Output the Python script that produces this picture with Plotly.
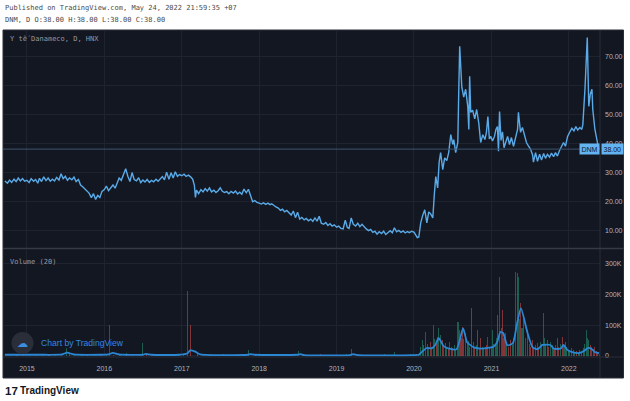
import plotly.graph_objects as go

# ---------------- data ----------------
symbol = "DNM"
chart_title = "Y tế Danameco, D, HNX"
published = "Published on TradingView.com, May 24, 2022 21:59:35 +07"

price_dates = [
    "2014-09-19", "2014-10-01", "2014-10-11", "2014-10-21", "2014-11-01", "2014-11-11", "2014-11-21",
    "2014-12-01", "2014-12-11", "2014-12-21",
    "2015-01-01", "2015-01-11", "2015-01-21", "2015-02-01", "2015-02-11", "2015-02-21", "2015-03-01",
    "2015-03-11", "2015-03-21", "2015-04-01", "2015-04-11", "2015-04-21", "2015-05-01", "2015-05-11",
    "2015-05-21", "2015-06-01", "2015-06-11", "2015-06-21", "2015-07-01", "2015-07-11", "2015-07-21",
    "2015-08-01", "2015-08-11", "2015-08-21", "2015-09-01", "2015-09-11", "2015-09-21", "2015-10-01",
    "2015-10-11", "2015-10-21", "2015-11-01", "2015-11-11", "2015-11-21", "2015-12-01", "2015-12-11",
    "2015-12-21",
    "2016-01-01", "2016-01-11", "2016-01-21", "2016-02-01", "2016-02-11", "2016-02-21", "2016-03-01",
    "2016-03-11", "2016-03-21", "2016-04-01", "2016-04-11", "2016-04-21", "2016-05-01", "2016-05-11",
    "2016-05-21", "2016-06-01", "2016-06-11", "2016-06-21", "2016-07-01", "2016-07-11", "2016-07-21",
    "2016-08-01", "2016-08-11", "2016-08-21", "2016-09-01", "2016-09-11", "2016-09-21", "2016-10-01",
    "2016-10-11", "2016-10-21", "2016-11-01", "2016-11-11", "2016-11-21", "2016-12-01", "2016-12-11",
    "2016-12-21",
    "2017-01-01", "2017-01-11", "2017-01-21", "2017-02-01", "2017-02-11", "2017-02-21", "2017-03-01",
    "2017-03-06", "2017-03-11", "2017-03-21", "2017-04-01", "2017-04-11", "2017-04-21", "2017-05-01",
    "2017-05-11", "2017-05-21", "2017-06-01", "2017-06-11", "2017-06-21", "2017-07-01", "2017-07-11",
    "2017-07-21", "2017-08-01", "2017-08-11", "2017-08-21", "2017-09-01", "2017-09-11", "2017-09-21",
    "2017-10-01", "2017-10-11", "2017-10-21", "2017-11-01", "2017-11-11", "2017-11-21", "2017-12-01",
    "2017-12-11", "2017-12-21",
    "2018-01-01", "2018-01-11", "2018-01-21", "2018-02-01", "2018-02-11", "2018-02-21", "2018-03-01",
    "2018-03-11", "2018-03-21", "2018-04-01", "2018-04-11", "2018-04-21", "2018-05-01", "2018-05-11",
    "2018-05-21", "2018-06-01", "2018-06-11", "2018-06-21", "2018-07-01", "2018-07-11", "2018-07-21",
    "2018-08-01", "2018-08-11", "2018-08-21", "2018-09-01", "2018-09-11", "2018-09-21", "2018-10-01",
    "2018-10-11", "2018-10-21", "2018-11-01", "2018-11-11", "2018-11-21", "2018-12-01", "2018-12-11",
    "2018-12-21",
    "2019-01-01", "2019-01-11", "2019-01-21", "2019-02-01", "2019-02-11", "2019-02-21", "2019-03-01",
    "2019-03-11", "2019-03-21", "2019-04-01", "2019-04-11", "2019-04-21", "2019-05-01", "2019-05-11",
    "2019-05-21", "2019-06-01", "2019-06-11", "2019-06-21", "2019-07-01", "2019-07-11", "2019-07-21",
    "2019-08-01", "2019-08-11", "2019-08-21", "2019-09-01", "2019-09-11", "2019-09-21", "2019-10-01",
    "2019-10-11", "2019-10-21", "2019-11-01", "2019-11-11", "2019-11-21", "2019-12-01", "2019-12-11",
    "2019-12-21",
    "2020-01-01", "2020-01-10", "2020-01-17", "2020-01-24", "2020-02-02", "2020-02-11", "2020-02-21",
    "2020-03-02", "2020-03-11", "2020-03-20", "2020-03-30", "2020-04-06", "2020-04-13", "2020-04-22",
    "2020-04-29", "2020-05-06", "2020-05-16", "2020-05-25", "2020-06-04", "2020-06-13", "2020-06-23",
    "2020-07-02", "2020-07-07", "2020-07-16", "2020-07-26", "2020-07-30", "2020-08-04", "2020-08-14",
    "2020-08-23", "2020-09-01", "2020-09-11", "2020-09-16", "2020-09-20", "2020-09-25", "2020-10-04",
    "2020-10-14", "2020-10-23", "2020-11-02", "2020-11-11", "2020-11-21", "2020-12-01", "2020-12-08",
    "2020-12-15", "2020-12-22", "2020-12-29",
    "2021-01-06", "2021-01-15", "2021-01-22", "2021-01-29", "2021-02-03", "2021-02-08", "2021-02-15",
    "2021-02-22", "2021-03-01", "2021-03-08", "2021-03-18", "2021-03-27", "2021-04-05", "2021-04-15",
    "2021-04-24", "2021-05-04", "2021-05-08", "2021-05-18", "2021-05-27", "2021-06-06", "2021-06-15",
    "2021-06-25", "2021-07-04", "2021-07-14", "2021-07-18", "2021-07-28", "2021-08-06", "2021-08-16",
    "2021-08-25", "2021-09-04", "2021-09-13", "2021-09-22", "2021-10-02", "2021-10-11", "2021-10-21",
    "2021-10-30", "2021-11-08", "2021-11-18", "2021-11-27", "2021-12-07", "2021-12-16", "2021-12-26",
    "2022-01-06", "2022-01-15", "2022-01-25", "2022-02-03", "2022-02-12", "2022-02-22", "2022-03-03",
    "2022-03-08", "2022-03-18", "2022-03-22", "2022-03-29", "2022-04-05", "2022-04-12", "2022-04-20",
    "2022-04-24", "2022-05-04", "2022-05-13", "2022-05-18", "2022-05-24",
]

price_close = [
    27.0, 26.2, 27.3, 26.5, 27.6, 26.8, 28.0, 27.0, 27.8, 26.9,
    27.2, 26.4, 27.8, 26.9, 27.5, 26.2, 27.9, 26.8, 28.4, 27.1, 28.0, 26.9, 27.6, 27.0, 28.2, 27.3,
    29.5, 27.8, 28.6, 27.2, 28.0, 27.4, 28.3, 26.8, 27.5, 25.6, 25.0, 24.2, 23.5, 22.8, 21.2, 22.6,
    20.6, 22.0, 21.3, 23.4,
    24.0, 25.2, 23.6, 24.8, 25.6, 24.5, 26.5, 28.0, 27.2, 29.4, 31.2, 28.6, 26.8, 29.9, 27.5, 27.0,
    28.1, 26.4, 27.3, 26.6, 27.5, 26.5, 27.2, 26.7, 27.6, 26.9, 27.8, 28.5, 27.4, 30.0, 27.6, 29.8,
    28.0, 30.2, 28.6, 29.2,
    28.8, 29.3, 28.6, 29.0, 28.4, 27.6, 25.5, 21.3, 23.8, 22.6, 24.0, 23.2, 24.3, 23.5, 24.6, 23.2,
    23.8, 23.0, 23.6, 24.6, 23.4, 23.0, 23.3, 22.6, 23.4, 22.8, 23.5, 22.5, 23.1, 22.4, 24.2, 22.9,
    24.1, 21.5, 19.8, 20.2, 19.6,
    19.3, 19.0, 19.4, 18.9, 19.3, 18.8, 19.1, 18.4, 18.0, 17.6, 16.8, 17.2, 16.3, 16.8, 16.0, 15.2,
    16.6, 14.3, 16.2, 13.8, 14.4, 13.5, 14.0, 13.2, 13.8, 13.0, 14.2, 13.1, 14.8, 12.4, 12.0, 12.6,
    11.6, 12.2, 11.4, 11.8,
    11.0, 11.4, 10.6, 10.4, 13.4, 10.9, 10.6, 14.2, 12.0, 11.4, 12.4, 11.2, 12.0, 11.0, 10.4, 9.8,
    10.2, 9.2, 9.6, 8.6, 9.4, 8.8, 9.6, 8.5, 9.2, 9.8, 9.1, 10.8, 9.4, 9.9, 9.2, 9.7, 9.0, 9.5, 9.1,
    9.6,
    9.3, 8.0, 7.4, 7.6, 12.5, 15.0, 17.0, 12.5, 16.3, 15.6, 14.2, 22.0, 28.5, 24.6, 33.5, 36.8, 30.9,
    35.0, 34.0, 36.8, 43.0, 39.6, 41.3, 36.8, 40.3, 56.0, 73.6, 59.4, 56.0, 58.7, 52.8, 44.8, 63.2,
    50.7, 51.5, 48.5, 51.7, 47.0, 40.3, 43.0, 41.3, 43.8, 49.3, 41.5, 42.4,
    40.8, 42.4, 44.8, 45.8, 37.3, 51.0, 41.0, 44.0, 38.5, 40.0, 42.4, 39.6, 42.0, 39.0, 42.0, 44.8,
    50.7, 43.8, 45.5, 42.4, 40.3, 39.0, 38.0, 36.0, 33.5, 36.8, 33.8, 36.2, 34.2, 36.5, 34.8, 36.2,
    35.2, 36.6, 35.4, 36.8, 35.6, 37.5, 38.8, 40.3, 39.0, 42.4,
    44.0, 45.2, 44.3, 45.8, 44.6, 45.5, 44.8, 46.5, 58.7, 66.0, 76.6, 52.8, 57.0, 58.7, 51.7, 44.8,
    40.3, 39.5, 38.0,
]

# volume (thousands of shares), 1 = up day (green), 0 = down day (red)
vol_dates = [
    "2014-10-15", "2014-11-15", "2014-12-15",
    "2015-01-15", "2015-02-15", "2015-03-15", "2015-04-15", "2015-05-15", "2015-06-15", "2015-07-08",
    "2015-07-20", "2015-08-15", "2015-09-15", "2015-10-15", "2015-11-15", "2015-12-15",
    "2016-01-10", "2016-01-25", "2016-02-15", "2016-03-15", "2016-04-15", "2016-05-15", "2016-06-15",
    "2016-07-01", "2016-07-20", "2016-08-15", "2016-09-15", "2016-10-15", "2016-11-15", "2016-12-15",
    "2017-01-10", "2017-01-29", "2017-02-12", "2017-03-15", "2017-04-15", "2017-05-15", "2017-06-15",
    "2017-07-15", "2017-08-15", "2017-09-15", "2017-10-15", "2017-11-10", "2017-12-15",
    "2018-01-15", "2018-02-15", "2018-03-15", "2018-04-15", "2018-05-15", "2018-06-15", "2018-07-05",
    "2018-08-15", "2018-09-15", "2018-10-15", "2018-11-15", "2018-12-15",
    "2019-01-15", "2019-02-15", "2019-03-12", "2019-04-15", "2019-05-15", "2019-06-15", "2019-07-15",
    "2019-08-15", "2019-09-15", "2019-10-03", "2019-11-15", "2019-12-15",
    "2020-01-06", "2020-01-15", "2020-01-24", "2020-02-03", "2020-02-10", "2020-02-17", "2020-02-26",
    "2020-03-03", "2020-03-10", "2020-03-18", "2020-03-25", "2020-04-03", "2020-04-09", "2020-04-15",
    "2020-04-22", "2020-04-28", "2020-05-05", "2020-05-14", "2020-05-20", "2020-05-27", "2020-06-03",
    "2020-06-10", "2020-06-18", "2020-06-25", "2020-07-02", "2020-07-09", "2020-07-16", "2020-07-27",
    "2020-08-04", "2020-08-10", "2020-08-19", "2020-08-24", "2020-08-31", "2020-09-08", "2020-09-15",
    "2020-09-21", "2020-09-27", "2020-10-07", "2020-10-14", "2020-10-21", "2020-10-29", "2020-11-04",
    "2020-11-12", "2020-11-18", "2020-11-25", "2020-12-02", "2020-12-09", "2020-12-15", "2020-12-23",
    "2020-12-30",
    "2021-01-05", "2021-01-12", "2021-01-19", "2021-01-25", "2021-01-29", "2021-02-08", "2021-02-15",
    "2021-02-22", "2021-03-01", "2021-03-08", "2021-03-15", "2021-03-22", "2021-04-01", "2021-04-08",
    "2021-04-15", "2021-04-24", "2021-05-04", "2021-05-08", "2021-05-12", "2021-05-18", "2021-05-25",
    "2021-06-01", "2021-06-10", "2021-06-20", "2021-06-28", "2021-07-06", "2021-07-14", "2021-07-20",
    "2021-07-27", "2021-08-06", "2021-08-13", "2021-08-20", "2021-08-27", "2021-09-04", "2021-09-10",
    "2021-09-15", "2021-09-22", "2021-09-29", "2021-10-06", "2021-10-16", "2021-10-23", "2021-10-30",
    "2021-11-08", "2021-11-15", "2021-11-23", "2021-12-02", "2021-12-09", "2021-12-16", "2021-12-23",
    "2021-12-30",
    "2022-01-06", "2022-01-15", "2022-01-22", "2022-01-29", "2022-02-08", "2022-02-15", "2022-02-22",
    "2022-03-02", "2022-03-10", "2022-03-18", "2022-03-25", "2022-03-30", "2022-04-05", "2022-04-12",
    "2022-04-19", "2022-04-26", "2022-05-04", "2022-05-11", "2022-05-18", "2022-05-24",
]

vol_values = [
    4, 6, 3,
    5, 3, 7, 4, 6, 5, 25, 9, 4, 3, 6, 8, 5,
    7, 100, 4, 6, 9, 5, 4, 42, 6, 3, 5, 7, 4, 6,
    8, 213, 100, 5, 4, 6, 3, 5, 4, 3, 6, 18, 5,
    4, 3, 5, 3, 6, 4, 15, 3, 4, 5, 3, 4,
    3, 5, 22, 6, 3, 4, 3, 5, 3, 12, 3, 5,
    3, 5, 8, 30, 52, 35, 79, 40, 28, 45, 30, 101, 55, 38, 63, 90, 70, 52, 35, 41, 28, 22, 45, 30, 25,
    35, 20, 112, 85, 60, 96, 55, 74, 40, 48, 30, 155, 45, 30, 35, 85, 25, 58, 30, 22, 28, 35, 63, 30,
    25,
    85, 40, 35, 60, 134, 259, 90, 150, 60, 74, 45, 30, 52, 35, 60, 275, 270, 259, 120, 172, 90, 128,
    60, 85, 40, 30, 52, 28, 35, 41, 30, 45, 38, 139, 60, 40, 52, 30, 45, 36, 25, 35, 58, 30, 40, 63,
    35, 47, 28, 20,
    15, 25, 18, 12, 15, 10, 20, 12, 25, 40, 85, 60, 52, 35, 28, 22, 30, 15, 10, 5,
]

vol_up = [
    1, 0, 1,
    1, 0, 1, 0, 1, 0, 1, 0, 1, 0, 0, 1, 0,
    1, 1, 0, 1, 1, 0, 1, 1, 0, 0, 1, 0, 1, 1,
    1, 1, 0, 0, 1, 0, 1, 0, 0, 1, 0, 1, 0,
    0, 1, 0, 0, 1, 0, 1, 0, 1, 0, 0, 1,
    0, 1, 1, 0, 0, 1, 0, 1, 0, 1, 0, 1,
    1, 0, 1, 1, 1, 0, 1, 0, 1, 0, 1, 1, 1, 0, 0, 1, 1, 0, 1, 0, 1, 0, 1, 0, 0,
    1, 0, 1, 1, 0, 0, 0, 1, 0, 1, 0, 0, 1, 0, 1, 0, 1, 0, 1, 0, 1, 0, 1, 0,
    1,
    1, 0, 1, 1, 0, 1, 1, 0, 0, 1, 1, 0, 0, 1, 1, 1, 0, 1, 1, 0, 1, 0,
    1, 0, 1, 0, 0, 0, 1, 1, 0, 1, 1, 1, 1, 0, 0, 0, 1, 1, 0, 1, 0, 0, 1, 0, 1, 0,
    1, 1, 0, 1,
    0, 1, 0, 1, 1, 0, 0, 1, 1, 1, 1, 0, 0, 1, 0, 0, 0, 0, 0, 0,
]

ma_dates = [
    "2014-09-19", "2015-03-01", "2015-06-15", "2015-07-10", "2015-08-10", "2015-12-15", "2016-01-20",
    "2016-02-10", "2016-03-10", "2016-07-01", "2016-07-15", "2016-08-10", "2016-12-20", "2017-01-25",
    "2017-02-10", "2017-03-05", "2017-03-30", "2017-11-10", "2017-11-20", "2017-12-10", "2018-07-01",
    "2018-07-15", "2018-08-01", "2019-03-05", "2019-03-20", "2019-04-10", "2019-12-31",
    "2020-01-24", "2020-02-10", "2020-03-01", "2020-03-25", "2020-04-10", "2020-04-27", "2020-05-20",
    "2020-06-15", "2020-07-20", "2020-08-20", "2020-09-08", "2020-10-10", "2020-11-15", "2020-12-20",
    "2021-01-10", "2021-01-28", "2021-02-12", "2021-02-25", "2021-03-17", "2021-04-12", "2021-04-30",
    "2021-05-20", "2021-06-20", "2021-07-14", "2021-08-06", "2021-08-30", "2021-10-06", "2021-10-21",
    "2021-11-23", "2021-12-07", "2021-12-25", "2022-01-20", "2022-02-22", "2022-03-17", "2022-03-31",
    "2022-04-20", "2022-05-05", "2022-05-24",
]
ma_values = [
    4, 4, 5, 11, 5, 4, 5, 10, 5, 4, 7, 4, 4, 8, 18, 14, 5, 4, 6, 4, 4, 6, 3, 3, 6, 3, 3,
    4, 15, 26, 25, 35, 58, 32, 24, 22, 90, 45, 28, 24, 27,
    30, 45, 78, 75, 35, 42, 100, 155, 75, 28, 22, 36, 36, 24, 24, 36, 20, 12, 10, 18, 26, 22, 12, 9,
]

year_ticks = ["2015-01-01", "2016-01-01", "2017-01-01", "2018-01-01", "2019-01-01",
              "2020-01-01", "2021-01-01", "2022-01-01"]
year_labels = ["2015", "2016", "2017", "2018", "2019", "2020", "2021", "2022"]
price_ticks = [10, 20, 30, 40, 50, 60, 70]
price_tick_labels = ["10.00", "20.00", "30.00", "40.00", "50.00", "60.00", "70.00"]
vol_ticks = [0, 100, 200, 300]
vol_tick_labels = ["0", "100K", "200K", "300K"]

# ---------------- layout helpers ----------------
W, H = 630, 401
ML, MR, MT, MB = 3, 30, 30, 44
PW, PH = W - ML - MR, H - MT - MB


def px(x):
    return (x - ML) / PW


def py(y):
    return (H - MB - y) / PH


BG = "#131722"
GRID = "#1f2330"
BORDER = "#2a2e39"
AX_TXT = "#b2b5be"
LINE = "#5aaae8"
LABEL_BG = "#62b3f0"
MONO = "DejaVu Sans Mono"
SANS = "Liberation Sans"

last = price_close[-1]

fig = go.Figure()
fig.add_trace(go.Bar(
    x=vol_dates, y=vol_values, xaxis="x", yaxis="y2",
    marker=dict(color=["rgba(38,166,120,0.5)" if u else "rgba(239,83,80,0.5)" for u in vol_up],
                line=dict(width=0)),
    width=5 * 86400000, showlegend=False, hoverinfo="skip",
))
fig.add_trace(go.Scatter(
    x=ma_dates, y=ma_values, xaxis="x", yaxis="y2", mode="lines",
    line=dict(color="#2b86d3", width=1.8, shape="spline", smoothing=0.6),
    showlegend=False, hoverinfo="skip",
))
fig.add_trace(go.Scatter(
    x=price_dates, y=price_close, xaxis="x2", yaxis="y", mode="lines",
    line=dict(color=LINE, width=1.4), showlegend=False, hoverinfo="skip",
))

x_range = ["2014-09-10", "2022-05-28"]
axis_font = dict(family=SANS, size=7, color=AX_TXT)

fig.update_layout(
    width=W, height=H,
    margin=dict(l=ML, r=MR, t=MT, b=MB, pad=0),
    paper_bgcolor="white", plot_bgcolor=BG,
    bargap=0,
    xaxis=dict(domain=[0, 1], anchor="y2", type="date", range=x_range,
               tickvals=year_ticks, ticktext=year_labels, tickfont=axis_font,
               showgrid=True, gridcolor=GRID, gridwidth=1, zeroline=False, showline=False,
               ticks="", ticklabelstandoff=6),
    xaxis2=dict(domain=[0, 1], anchor="y", type="date", matches="x", range=x_range,
                tickvals=year_ticks, showticklabels=False,
                showgrid=True, gridcolor=GRID, gridwidth=1, zeroline=False, showline=False, ticks=""),
    yaxis=dict(domain=[py(248), 1], anchor="x2", side="right", range=[3.8, 79.2],
               tickvals=price_ticks, ticktext=price_tick_labels, tickfont=axis_font,
               showgrid=True, gridcolor=GRID, zeroline=False, showline=False, ticks="",
               ticklabelstandoff=4),
    yaxis2=dict(domain=[0, py(250)], anchor="x", side="right", range=[-3.3, 345.6],
                tickvals=vol_ticks, ticktext=vol_tick_labels, tickfont=axis_font,
                showgrid=True, gridcolor=GRID, zeroline=False, showline=False, ticks="",
                ticklabelstandoff=4),
)

shapes = [
    # dark panel
    dict(type="rect", xref="paper", yref="paper", x0=px(3), x1=px(623.5), y0=py(378), y1=py(30),
         fillcolor=BG, line=dict(color=BORDER, width=1), layer="below"),
    # price-scale separator
    dict(type="line", xref="paper", yref="paper", x0=px(600), x1=px(600), y0=py(378), y1=py(30),
         line=dict(color=BORDER, width=1)),
    # pane separator
    dict(type="line", xref="paper", yref="paper", x0=px(3), x1=px(623.5), y0=py(248.5), y1=py(248.5),
         line=dict(color="#363a45", width=1.5)),
    # time-axis separator
    dict(type="line", xref="paper", yref="paper", x0=px(3), x1=px(623.5), y0=py(357), y1=py(357),
         line=dict(color=BORDER, width=1)),
    # last price line
    dict(type="line", xref="paper", yref="y", x0=0, x1=1, y0=last, y1=last,
         line=dict(color="#3e5470", width=1)),
    # watermark circle
    dict(type="circle", xref="paper", yref="paper", x0=px(11.5), x1=px(33.5), y0=py(354), y1=py(332),
         fillcolor="#2a2e39", line=dict(width=0)),
]

annotations = [
    dict(text=published, xref="paper", yref="paper", x=px(3), y=py(8), xanchor="left", yanchor="middle",
         showarrow=False, font=dict(family=MONO, size=7, color="#4a4a4a")),
    dict(text=f"{symbol}, D O:{last:.2f} H:{last:.2f} L:{last:.2f} C:{last:.2f}", xref="paper", yref="paper",
         x=px(3), y=py(20), xanchor="left", yanchor="middle",
         showarrow=False, font=dict(family=MONO, size=7, color="#4a4a4a")),
    dict(text=chart_title, xref="paper", yref="paper", x=px(8), y=py(38.5), xanchor="left", yanchor="middle",
         showarrow=False, font=dict(family=MONO, size=7, color="#9598a1")),
    dict(text="Volume (20)", xref="paper", yref="paper", x=px(8), y=py(262), xanchor="left", yanchor="middle",
         showarrow=False, font=dict(family=MONO, size=7, color="#9598a1")),
    dict(text="☁", xref="paper", yref="paper", x=px(22.5), y=py(343), xanchor="center", yanchor="middle",
         showarrow=False, font=dict(family="DejaVu Sans", size=11, color="#3b8fe0")),
    dict(text="Chart by TradingView", xref="paper", yref="paper", x=px(39), y=py(343), xanchor="left",
         yanchor="middle", showarrow=False, font=dict(family=SANS, size=8.6, color="#3388e0")),
    dict(text=symbol, xref="paper", yref="y", x=px(600), y=last, xanchor="right", yanchor="middle",
         showarrow=False, bgcolor=LABEL_BG, borderpad=1.5,
         font=dict(family=SANS, size=7, color="#0c1a2a")),
    dict(text=f"{last:.2f}", xref="paper", yref="y", x=px(601), y=last, xanchor="left", yanchor="middle",
         showarrow=False, bgcolor=LABEL_BG, borderpad=1.5,
         font=dict(family=SANS, size=7, color="#0c1a2a")),
    dict(text="<b>17</b>", xref="paper", yref="paper", x=px(3), y=py(390.5), xanchor="left",
         yanchor="middle", showarrow=False, font=dict(family=SANS, size=11.5, color="#131722")),
    dict(text="<b>TradingView</b>", xref="paper", yref="paper", x=px(18), y=py(390.5), xanchor="left",
         yanchor="middle", showarrow=False, font=dict(family=SANS, size=10, color="#131722")),
]

fig.update_layout(shapes=shapes, annotations=annotations)
fig.write_html(
    "out.html",
    config={"displayModeBar": False},
    post_script="document.body.style.margin='0px';document.documentElement.style.margin='0px';",
)
